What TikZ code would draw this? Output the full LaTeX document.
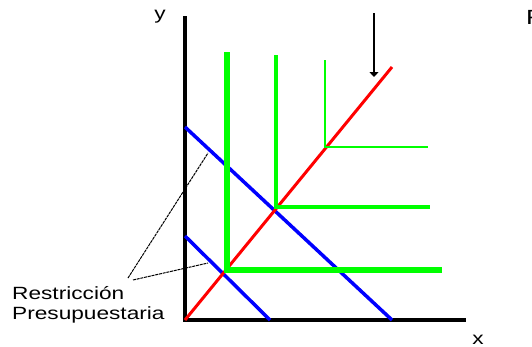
\documentclass[tikz,border=0pt]{standalone}
\usepackage{fontspec}
\setmainfont{Liberation Sans}
\newfontfamily\widefont[FakeStretch=1.28]{Liberation Sans}
\usepackage{tikz}
\usetikzlibrary{arrows.meta, positioning}

\begin{document}
\begin{tikzpicture}[
    x=1pt, y=-1pt,
    axis/.style={line width=3.5pt, black},
    budget/.style={line width=3.5pt, blue},
    expansion/.style={line width=3pt, red},
    indiff/.style={green, line join=miter},
    pointer/.style={line width=1pt, black, dash pattern=on 3pt off 0.8pt},
    lbl/.style={font=\fontsize{17.7}{20}\widefont, inner sep=0pt},
]

\useasboundingbox (0,0) rectangle (532,346);

% Axes
\coordinate (O) at (185,320);
\coordinate (ytop) at (185,16);
\coordinate (xend) at (466,320);
\draw[axis] (ytop) -- (O) -- (xend);
\node[lbl, anchor=base] (ylab) at (160,19) {y};
\node[lbl, anchor=base] (xlab) at (478,344) {x};
\node[lbl, anchor=base west, font=\fontsize{20.5}{22}\widefont] (flab) at (526,24) {F};

% Budget lines
\coordinate (b1a) at (185,127);
\coordinate (b1b) at (392,320);
\coordinate (b2a) at (185,236);
\coordinate (b2b) at (270,320);
\draw[budget] (b1a) -- (b1b);
\draw[budget] (b2a) -- (b2b);

% Expansion path
\coordinate (ray) at (392,67);
\draw[expansion] (O) -- (ray);

% Indifference curves
\coordinate (c1) at (227,270);
\coordinate (c2) at (276,207);
\coordinate (c3) at (325,147);
\draw[indiff, line width=6pt] (227,52) -- (c1) -- (442,270);
\draw[indiff, line width=4pt] (276,55) -- (c2) -- (430,207);
\draw[indiff, line width=2pt] (325,60) -- (c3) -- (428,147);

% Arrow
\coordinate (atop) at (374,13);
\coordinate (abot) at (374,77);
\draw[line width=1.5pt, -{Triangle[width=9pt, length=5pt]}] (atop) -- (abot);

% Label
\node[lbl, anchor=base west, align=left] (restr) at (12,319) {Restricción\\Presupuestaria};
\coordinate (tip1) at (208,153);
\coordinate (tip2) at (208,263);
\draw[pointer] (128,278) coordinate (s1) -- (tip1);
\draw[pointer] (133,280) coordinate (s2) -- (tip2);

\end{tikzpicture}
\end{document}
